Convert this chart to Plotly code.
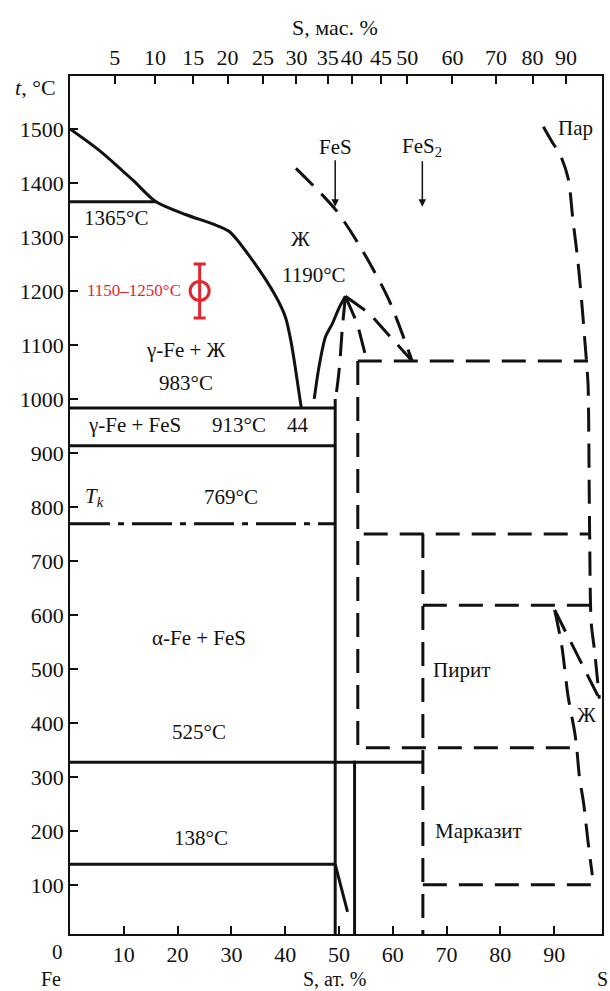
import plotly.graph_objects as go

# ---------- axes ----------
at_ticks = [10, 20, 30, 40, 50, 60, 70, 80, 90]
t_ticks = [100, 200, 300, 400, 500, 600, 700, 800, 900, 1000, 1100, 1200, 1300, 1400, 1500]
wt_labels = ["5", "10", "15", "20", "25", "30", "35", "40", "45", "50", "60", "70", "80", "90"]
wt_at_pos = [8.3, 15.8, 22.9, 29.3, 35.9, 42.1, 47.9, 52.4, 57.8, 62.7, 71.1, 79.2, 86.0, 92.2]
X_MAX = 98.9
T_MIN, T_MAX = 9, 1598

# ---------- solid boundaries (S, at.% ; t, °C) ----------
liq_fe_x = [0, 5.6, 11.7, 16.0, 21.6, 26.5, 29.6, 33.9, 38.3, 40.1, 41.2, 42.0, 43.0]
liq_fe_t = [1500, 1459, 1405, 1365, 1341, 1324, 1310, 1257, 1189, 1150, 1100, 1050, 983]

liq_fes_x = [45.4, 46.3, 47.5, 48.8, 50.0, 51.2]
liq_fes_t = [1000, 1060, 1115, 1140, 1168, 1190]

solvus_x = [49.3, 51.6]
solvus_t = [138, 50]

# isotherms: (temperature, x_from, x_to)
iso_solid = [(1365, 0, 16.0), (983, 0, 49.3), (913, 0, 49.3), (327, 0, 65.5), (138, 0, 49.3)]
iso_curie = (769, 0, 49.3)

# vertical solid lines: (x, t_from, t_to)
vert_solid = [(49.3, 1000, 0), (52.9, 330, 0)]

# ---------- dashed boundaries ----------
dashed_curves = {
    "liq_upper": ([42.0, 49.4, 54.3, 59.3, 63.6], [1427, 1350, 1276, 1183, 1070]),
    "dome_left": ([51.2, 50.6, 50.1, 49.5, 49.3], [1190, 1128, 1060, 1010, 1000]),
    "dome_mid": ([51.2, 53.4, 55.2], [1190, 1140, 1070]),
    "dome_right": ([51.2, 55.6, 63.6], [1190, 1159, 1070]),
    "vapour": ([88.0, 89.8, 91.0, 92.6, 93.5, 94.4, 95.1, 95.7, 96.3, 96.4, 96.6, 96.9, 97.5, 98.4],
               [1504, 1473, 1455, 1409, 1331, 1257, 1183, 1109, 1029, 980, 750, 585, 535, 445]),
    "liq_s_a": ([90.1, 98.4], [609, 445]),
    "liq_s_b": ([90.1, 91.4, 92.6, 93.8, 94.2, 94.7, 95.5, 96.3, 97.1],
                [609, 544, 449, 384, 354, 300, 250, 180, 118]),
}
iso_dashed = [(1070, 53.5, 96.3), (750, 54.6, 96.4), (618, 65.6, 96.9), (354, 55.0, 94.2), (100, 65.6, 98.9)]
vert_dashed = [(53.5, 1070, 354), (65.6, 750, 0)]

# experimental point
exp_x, exp_t, exp_err = 24.1, 1200, 50

BLACK = "#111111"
RED = "#e3262d"
DASH = "24px,12px"

fig = go.Figure()


def add_line(x, y, dash="solid", width=3, shape="linear"):
    fig.add_trace(go.Scatter(x=x, y=y, mode="lines", hoverinfo="skip", showlegend=False,
                             line=dict(color=BLACK, width=width, dash=dash, shape=shape,
                                       smoothing=0.8 if shape == "spline" else None)))


add_line(liq_fe_x, liq_fe_t, shape="spline")
add_line(liq_fes_x, liq_fes_t, shape="spline")
add_line(solvus_x, solvus_t)
for t, x0, x1 in iso_solid:
    add_line([x0, x1], [t, t])
add_line([iso_curie[1], iso_curie[2]], [iso_curie[0]] * 2, dash="40px,8px,6px,8px")
for x, t0, t1 in vert_solid:
    add_line([x, x], [t0, t1])

for name, (xs, ts) in dashed_curves.items():
    add_line(xs, ts, dash=DASH, shape="spline" if len(xs) > 3 else "linear")
for t, x0, x1 in iso_dashed:
    add_line([x0, x1], [t, t], dash=DASH)
for x, t0, t1 in vert_dashed:
    add_line([x, x], [t0, t1], dash=DASH)

fig.add_trace(go.Scatter(
    x=[exp_x], y=[exp_t], mode="markers", showlegend=False, hoverinfo="skip",
    marker=dict(symbol="circle-open", size=19, color=RED, line=dict(width=3, color=RED)),
    error_y=dict(type="data", array=[exp_err], arrayminus=[exp_err], color=RED, thickness=3, width=6),
))

# invisible trace that carries the top (wt.%) axis
fig.add_trace(go.Scatter(x=[0, X_MAX], y=[T_MIN, T_MIN], xaxis="x2", mode="lines",
                         line=dict(width=0), hoverinfo="skip", showlegend=False))

# ---------- labels ----------
labels = [
    ("1365°C", 8.6, 1335, "center"),
    ("Ж", 42.9, 1297, "center"),
    ("1190°C", 45.4, 1230, "center"),
    ("γ-Fe + Ж", 21.6, 1091, "center"),
    ("983°C", 21.6, 1029, "center"),
    ("γ-Fe + FeS", 12.0, 952, "center"),
    ("913°C", 31.5, 952, "center"),
    ("44", 42.3, 952, "center"),
    ("<i>T</i><sub><i>k</i></sub>", 4.6, 818, "center"),
    ("769°C", 30.0, 818, "center"),
    ("α-Fe + FeS", 23.9, 557, "center"),
    ("525°C", 23.9, 384, "center"),
    ("138°C", 24.3, 186, "center"),
    ("Пирит", 67.1, 498, "left"),
    ("Маркaзит", 67.4, 199, "left"),
    ("Ж", 96.0, 415, "center"),
    ("Пар", 90.4, 1501, "left"),
]
for text, x, y, anchor in labels:
    fig.add_annotation(x=x, y=y, text=text, showarrow=False, xanchor=anchor, yanchor="middle",
                       font=dict(size=21, color=BLACK))

fig.add_annotation(x=21.0, y=exp_t, text="1150–1250°C", showarrow=False, xanchor="right",
                   yanchor="middle", font=dict(size=17, color=RED))

# compound markers with arrows
for text, x in [("FeS", 49.3), ("FeS<sub>2</sub>", 65.5)]:
    fig.add_annotation(x=x, y=1356, ax=0, ay=-60, text=text, showarrow=True,
                       arrowhead=2, arrowsize=1, arrowwidth=1.5, arrowcolor=BLACK,
                       font=dict(size=21, color=BLACK))

# axis captions
fig.add_annotation(x=0, y=1576, xref="x", yref="y", text="<i>t</i>, °C", showarrow=False,
                   xanchor="center", xshift=-35, font=dict(size=22, color=BLACK))
fig.add_annotation(x=49.2, y=1, xref="x", yref="paper", text="S, мас. %", showarrow=False,
                   yanchor="middle", yshift=49, font=dict(size=22, color=BLACK))
fig.add_annotation(x=0, y=0, xref="x", yref="paper", text="0", showarrow=False,
                   yanchor="bottom", xshift=-13, yshift=-32, font=dict(size=21, color=BLACK))
for text, x, xshift in [("Fe", 0, -19), ("S, ат. %", 49.2, 0), ("S", X_MAX, 0)]:
    fig.add_annotation(x=x, y=0, xref="x", yref="paper", text=text, showarrow=False,
                       yanchor="top", xshift=xshift, yshift=-32, font=dict(size=20, color=BLACK))

axis_common = dict(showgrid=False, zeroline=False, showline=True, linecolor=BLACK, linewidth=1.5,
                   ticks="inside", ticklen=8, tickwidth=1.5, tickcolor=BLACK,
                   tickfont=dict(size=22, color=BLACK))

fig.update_layout(
    width=610, height=991,
    margin=dict(l=70, r=6, t=76, b=57),
    paper_bgcolor="white", plot_bgcolor="white",
    font=dict(family="Liberation Serif", size=22, color=BLACK),
    xaxis=dict(range=[0, X_MAX], tickvals=at_ticks, **axis_common),
    xaxis2=dict(range=[0, X_MAX], overlaying="x", side="top", anchor="y",
                tickvals=wt_at_pos, ticktext=wt_labels, **axis_common),
    yaxis=dict(range=[T_MIN, T_MAX], tickvals=t_ticks, mirror=True, **axis_common),
)

fig.write_html("out.html")
